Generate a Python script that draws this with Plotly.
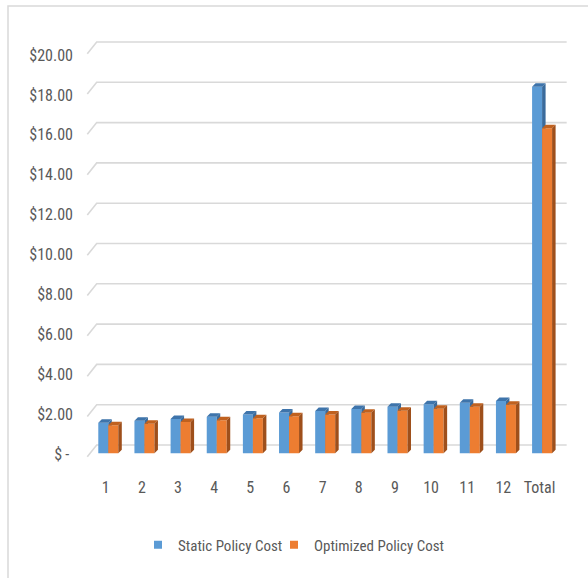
import plotly.graph_objects as go

# ---- data ----
categories = ["1", "2", "3", "4", "5", "6", "7", "8", "9", "10", "11", "12", "Total"]
static_cost = [1.52, 1.62, 1.70, 1.82, 1.92, 2.03, 2.10, 2.20, 2.31, 2.43, 2.51, 2.59, 18.19]
optimized_cost = [1.39, 1.47, 1.55, 1.64, 1.74, 1.84, 1.92, 2.01, 2.11, 2.21, 2.31, 2.41, 16.13]
tick_values = [0, 2, 4, 6, 8, 10, 12, 14, 16, 18, 20]
tick_labels = ["$\u2009-\u2005", "$2.00", "$4.00", "$6.00", "$8.00", "$10.00",
               "$12.00", "$14.00", "$16.00", "$18.00", "$20.00"]

FONT = "Liberation Sans Narrow, Arial Narrow, Roboto Condensed, Liberation Sans, sans-serif"
TEXT = "#595959"
GRID = "#D9D9D9"

# pixel geometry of the plot area
W, H = 588, 578
ML, MR, MT, MB = 84, 20, 30, 108
PW, PH = W - ML - MR, H - MT - MB
PX_X = 36.15      # px per category
PX_Y = 20.15      # px per dollar (bars)
X_MIN = -0.6
X_MAX = X_MIN + PW / PX_X
Y_MIN = -(H - MB - 453.3) / PX_Y
Y_MAX = (453.3 - MT) / PX_Y

# pseudo-3D depth of each column
DX = 3.5 / PX_X
DY = 3.5 / PX_Y
BAR_W = 10.0 / PX_X
BLUE_OFF = -7.4 / PX_X

series = [
    ("Static Policy Cost", static_cost, BLUE_OFF, "#5B9BD5", "#3E74AB", "#3A6B9C", "legend"),
    ("Optimized Policy Cost", optimized_cost, BLUE_OFF + BAR_W, "#ED7D31", "#C0611F", "#9E4F1B", "legend2"),
]

fig = go.Figure()

# back-wall gridlines with the slanted side-wall segment
gx, gy = [], []
wall_front, wall_back, grid_end = -0.509, -0.249, 12.752
for v in tick_values:
    gx += [wall_front, wall_back, grid_end, None]
    gy += [v - 0.17, v + 0.412, v + 0.412, None]
fig.add_trace(go.Scatter(x=gx, y=gy, mode="lines", line=dict(color=GRID, width=1.6),
                         hoverinfo="skip", showlegend=False))


def faces(values, off):
    fx, fy, tx, ty, sx, sy = [], [], [], [], [], []
    for i, v in enumerate(values):
        x0 = i + off
        x1 = x0 + BAR_W
        fx += [x0, x1, x1, x0, x0, None]
        fy += [0, 0, v, v, 0, None]
        tx += [x0, x1, x1 + DX, x0 + DX, x0, None]
        ty += [v, v, v + DY, v + DY, v, None]
        sx += [x1, x1 + DX, x1 + DX, x1, x1, None]
        sy += [0, DY, v + DY, v, 0, None]
    return (fx, fy), (tx, ty), (sx, sy)


for name, vals, off, c_front, c_top, c_side, lg in series:
    (fx, fy), (tx, ty), (sx, sy) = faces(vals, off)
    for xs, ys, col in ((fx, fy, c_front), (tx, ty, c_top), (sx, sy, c_side)):
        fig.add_trace(go.Scatter(x=xs, y=ys, mode="lines", fill="toself", fillcolor=col,
                                 line=dict(width=0, color=col), hoverinfo="skip",
                                 showlegend=False))
    # legend entry
    fig.add_trace(go.Scatter(x=[None], y=[None], mode="markers", name=name, legend=lg,
                             marker=dict(symbol="square", size=8, color=c_front)))

# carrier trace for the dollar tick-label axis
fig.add_trace(go.Scatter(x=[0], y=[0], yaxis="y2", mode="markers",
                         marker=dict(opacity=0), hoverinfo="skip", showlegend=False))

LBL_S = 19.95
legend_common = dict(orientation="h", y=(470 - 545) / PH, xanchor="left", yanchor="middle",
                     font=dict(size=15, color=TEXT), bgcolor="rgba(0,0,0,0)")
fig.update_layout(
    width=W, height=H,
    margin=dict(l=ML, r=MR, t=MT, b=MB),
    paper_bgcolor="white", plot_bgcolor="white",
    font=dict(family=FONT, color=TEXT, size=16),
    xaxis=dict(range=[X_MIN, X_MAX], tickvals=list(range(len(categories))),
               ticktext=categories, showgrid=False, zeroline=False, showline=False,
               ticks="", ticklabelstandoff=6, tickfont=dict(size=16, color=TEXT)),
    yaxis=dict(range=[Y_MIN, Y_MAX], showgrid=False, zeroline=False, showline=False,
               showticklabels=False, ticks=""),
    yaxis2=dict(range=[-(H - MB - 454) / LBL_S, (454 - MT) / LBL_S], overlaying="y",
                side="left", tickvals=tick_values, ticktext=tick_labels,
                showgrid=False, zeroline=False, showline=False, ticks="",
                ticklabelstandoff=10, tickfont=dict(size=16, color=TEXT)),
    legend=dict(x=(138 - ML) / PW, **legend_common),
    legend2=dict(x=(274 - ML) / PW, **legend_common),
    shapes=[dict(type="rect", xref="paper", yref="paper",
                 x0=(8 - ML) / PW, x1=(600 - ML) / PW,
                 y0=(470 - 590) / PH, y1=(470 - 6) / PH,
                 line=dict(color=GRID, width=1.5), layer="below")],
)

fig.write_html("out.html")
